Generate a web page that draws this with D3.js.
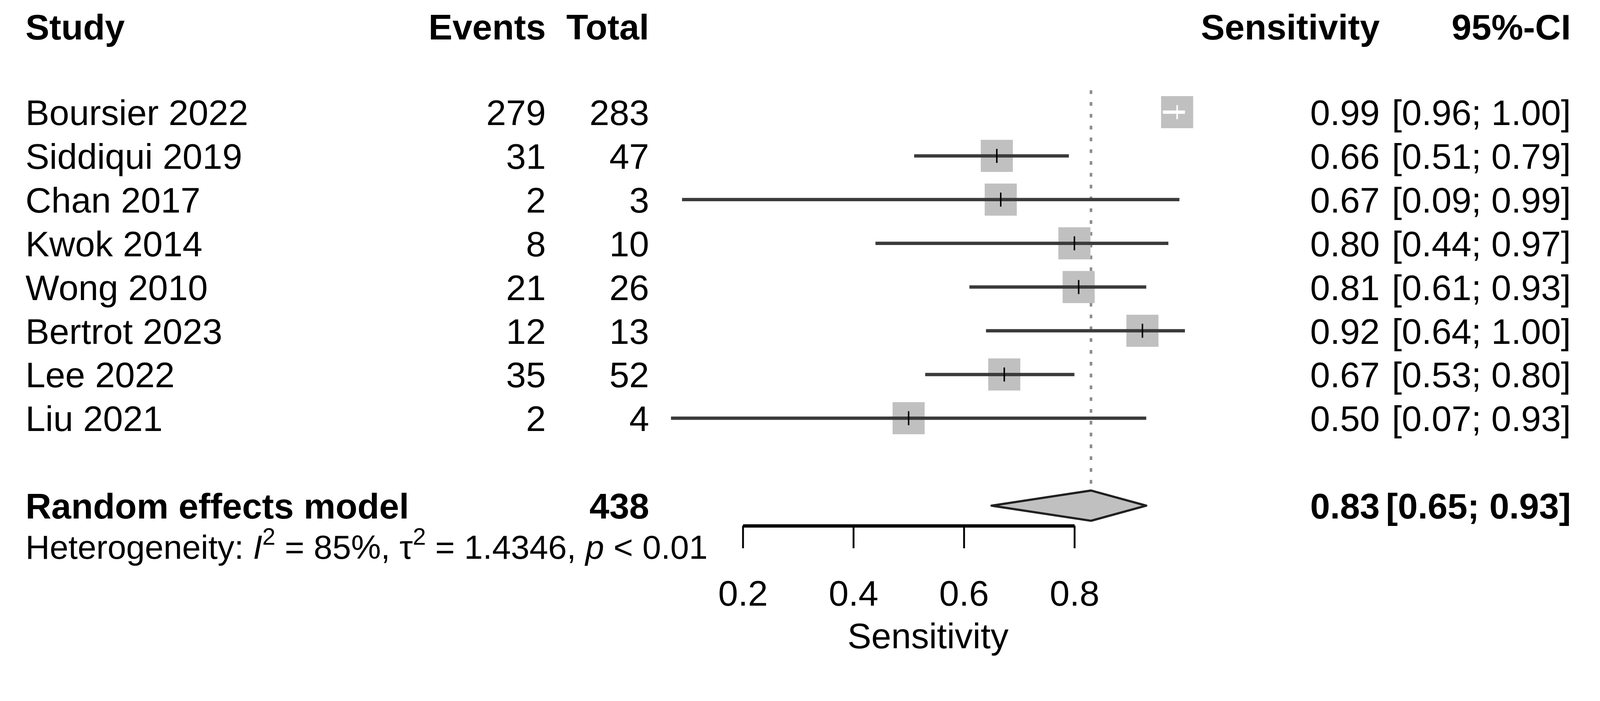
<!DOCTYPE html>
<html>
<head>
<meta charset="utf-8">
<script src="https://cdn.jsdelivr.net/npm/d3@7"></script>
<style>
  html, body { margin: 0; padding: 0; background: #ffffff; overflow: hidden; }
  #forest svg { display: block; width: 100vw; height: 100vh; }
  text { font-family: "Liberation Sans", Arial, sans-serif; fill: #000000; }
</style>
</head>
<body>
<div id="forest"></div>
<script>

// Data:
var studies = ['Boursier 2022', 'Siddiqui 2019', 'Chan 2017', 'Kwok 2014',
               'Wong 2010', 'Bertrot 2023', 'Lee 2022', 'Liu 2021'];
var events = [279, 31, 2, 8, 21, 12, 35, 2];
var totals = [283, 47, 3, 10, 26, 13, 52, 4];
var sensitivity = [0.99, 0.66, 0.67, 0.80, 0.81, 0.92, 0.67, 0.50];
var lower = [0.96, 0.51, 0.09, 0.44, 0.61, 0.64, 0.53, 0.07];
var upper = [1.00, 0.79, 0.99, 0.97, 0.93, 1.00, 0.80, 0.93];

// Random effects model summary:
var pooledLabel = 'Random effects model';
var pooledTotal = 438;
var pooled = [0.83, 0.65, 0.93];

// Axis ticks:
var tickValues = [0.2, 0.4, 0.6, 0.8];

// Building the table rows from the arrays:
var rows = studies.map(function(s, i) {
    return {
        study: s,
        events: events[i],
        total: totals[i],
        est: events[i] / totals[i],
        sens: sensitivity[i],
        lo: lower[i],
        hi: upper[i]
    };
});

// Drawing area dimensions (scaled to the window through the viewBox):
var svgWidth = 4338;
var svgHeight = 1794;
var fontSize = 97;

// Column anchors:
var colStudy = 69;
var colEvents = 1480;
var colTotal = 1760;
var colSens = 3741;
var colCI = 4259;

// Row layout:
var headerBaseline = 107;
var firstRowCenter = 304;
var rowStep = 118.5;
var baselineShift = 35;
var boxSize = 87;

var svg = d3.select('#forest')
    .append('svg')
    .attr('viewBox', '0 0 ' + svgWidth + ' ' + svgHeight)
    .attr('preserveAspectRatio', 'xMidYMin meet');

svg.append('rect')
    .attr('width', svgWidth)
    .attr('height', svgHeight)
    .attr('fill', '#ffffff');

// x scale for sensitivity (axis drawn from 0.2 to 0.8):
var xScale = d3.scaleLinear()
    .domain([0.2, 0.8])
    .range([2014, 2913]);

// y scale for row index:
var yScale = d3.scaleLinear()
    .domain([0, 1])
    .range([firstRowCenter, firstRowCenter + rowStep]);

var pooledRow = rows.length + 1;
var diamondHalf = 41;

// Header:
var header = svg.append('g').attr('font-weight', 'bold').attr('font-size', fontSize);
header.append('text').attr('x', colStudy).attr('y', headerBaseline).text('Study');
header.append('text').attr('x', colEvents).attr('y', headerBaseline).attr('text-anchor', 'end').text('Events');
header.append('text').attr('x', colTotal).attr('y', headerBaseline).attr('text-anchor', 'end').text('Total');
header.append('text').attr('x', colSens).attr('y', headerBaseline).attr('text-anchor', 'end').text('Sensitivity');
header.append('text').attr('x', colCI).attr('y', headerBaseline).attr('text-anchor', 'end').text('95%-CI');

// Dotted line at the pooled estimate:
svg.append('line')
    .attr('x1', xScale(pooled[0]))
    .attr('x2', xScale(pooled[0]))
    .attr('y1', yScale(0) - rowStep / 2)
    .attr('y2', yScale(pooledRow) - diamondHalf)
    .attr('stroke', '#8c8c8c')
    .attr('stroke-width', 7)
    .attr('stroke-dasharray', '10 22');

// Study rows:
var rowGroup = svg.selectAll('.study')
    .data(rows)
    .enter()
    .append('g')
    .attr('class', 'study')
    .attr('transform', function(d, i) { return 'translate(0,' + yScale(i) + ')'; });

rowGroup.append('text')
    .attr('x', colStudy)
    .attr('y', baselineShift)
    .attr('font-size', fontSize)
    .text(function(d) { return d.study; });

rowGroup.append('text')
    .attr('x', colEvents)
    .attr('y', baselineShift)
    .attr('font-size', fontSize)
    .attr('text-anchor', 'end')
    .text(function(d) { return d.events; });

rowGroup.append('text')
    .attr('x', colTotal)
    .attr('y', baselineShift)
    .attr('font-size', fontSize)
    .attr('text-anchor', 'end')
    .text(function(d) { return d.total; });

rowGroup.append('text')
    .attr('x', colSens)
    .attr('y', baselineShift)
    .attr('font-size', fontSize)
    .attr('text-anchor', 'end')
    .text(function(d) { return d.sens.toFixed(2); });

rowGroup.append('text')
    .attr('x', colCI)
    .attr('y', baselineShift)
    .attr('font-size', fontSize)
    .attr('text-anchor', 'end')
    .text(function(d) { return '[' + d.lo.toFixed(2) + '; ' + d.hi.toFixed(2) + ']'; });

// Grey boxes:
rowGroup.append('rect')
    .attr('x', function(d) { return xScale(d.est) - boxSize / 2; })
    .attr('y', -boxSize / 2)
    .attr('width', boxSize)
    .attr('height', boxSize)
    .attr('fill', '#c0c0c0');

// CI inside the box is drawn white:
function insideBox(d) {
    return xScale(d.lo) >= xScale(d.est) - boxSize / 2 && xScale(d.hi) <= xScale(d.est) + boxSize / 2;
}

rowGroup.append('line')
    .attr('x1', function(d) { return xScale(d.lo); })
    .attr('x2', function(d) { return xScale(d.hi); })
    .attr('y1', 0)
    .attr('y2', 0)
    .attr('stroke', function(d) { return insideBox(d) ? '#ffffff' : '#3a3a3a'; })
    .attr('stroke-width', 9);

rowGroup.append('line')
    .attr('x1', function(d) { return xScale(d.est); })
    .attr('x2', function(d) { return xScale(d.est); })
    .attr('y1', -19)
    .attr('y2', 19)
    .attr('stroke', function(d) { return insideBox(d) ? '#ffffff' : '#000000'; })
    .attr('stroke-width', 4);

// Random effects model row:
var pooledY = yScale(pooledRow);
var pooledGroup = svg.append('g').attr('font-weight', 'bold').attr('font-size', fontSize);
pooledGroup.append('text').attr('x', colStudy).attr('y', pooledY + baselineShift).text(pooledLabel);
pooledGroup.append('text').attr('x', colTotal).attr('y', pooledY + baselineShift).attr('text-anchor', 'end').text(pooledTotal);
pooledGroup.append('text').attr('x', colSens).attr('y', pooledY + baselineShift).attr('text-anchor', 'end').text(pooled[0].toFixed(2));
pooledGroup.append('text').attr('x', colCI).attr('y', pooledY + baselineShift).attr('text-anchor', 'end')
    .text('[' + pooled[1].toFixed(2) + '; ' + pooled[2].toFixed(2) + ']');

svg.append('path')
    .attr('d', 'M' + xScale(pooled[1]) + ',' + pooledY +
               'L' + xScale(pooled[0]) + ',' + (pooledY - diamondHalf) +
               'L' + xScale(pooled[2]) + ',' + pooledY +
               'L' + xScale(pooled[0]) + ',' + (pooledY + diamondHalf) + 'Z')
    .attr('fill', '#c0c0c0')
    .attr('stroke', '#202020')
    .attr('stroke-width', 6)
    .attr('stroke-linejoin', 'round');

// Heterogeneity statement:
var het = svg.append('text')
    .attr('x', colStudy)
    .attr('y', 1514)
    .attr('font-size', 91);
het.append('tspan').text('Heterogeneity: ');
het.append('tspan').attr('font-style', 'italic').text('I');
het.append('tspan').attr('font-size', 64).attr('dy', -38).text('2');
het.append('tspan').attr('dy', 38).text(' = 85%, ');
het.append('tspan').text('\u03c4');
het.append('tspan').attr('font-size', 64).attr('dy', -38).text('2');
het.append('tspan').attr('dy', 38).text(' = 1.4346, ');
het.append('tspan').attr('font-style', 'italic').text('p');
het.append('tspan').text(' < 0.01');

// Bottom axis:
var xAxis = d3.axisBottom(xScale)
    .tickValues(tickValues)
    .tickFormat(d3.format('.1f'))
    .tickSizeInner(61)
    .tickSizeOuter(0)
    .tickPadding(87);

var axisGroup = svg.append('g')
    .attr('transform', 'translate(0,1425)')
    .call(xAxis);

axisGroup.select('.domain').attr('stroke', '#000000').attr('stroke-width', 9);
axisGroup.selectAll('.tick line').attr('stroke', '#000000').attr('stroke-width', 5);
axisGroup.selectAll('.tick text')
    .attr('font-size', fontSize)
    .attr('font-family', '"Liberation Sans", Arial, sans-serif')
    .attr('fill', '#000000');

// Axis label centred under the plotted CI range:
svg.append('text')
    .attr('x', (xScale(d3.min(lower)) + xScale(d3.max(upper))) / 2)
    .attr('y', 1757)
    .attr('font-size', fontSize)
    .attr('text-anchor', 'middle')
    .text('Sensitivity');

</script>
</body>
</html>
